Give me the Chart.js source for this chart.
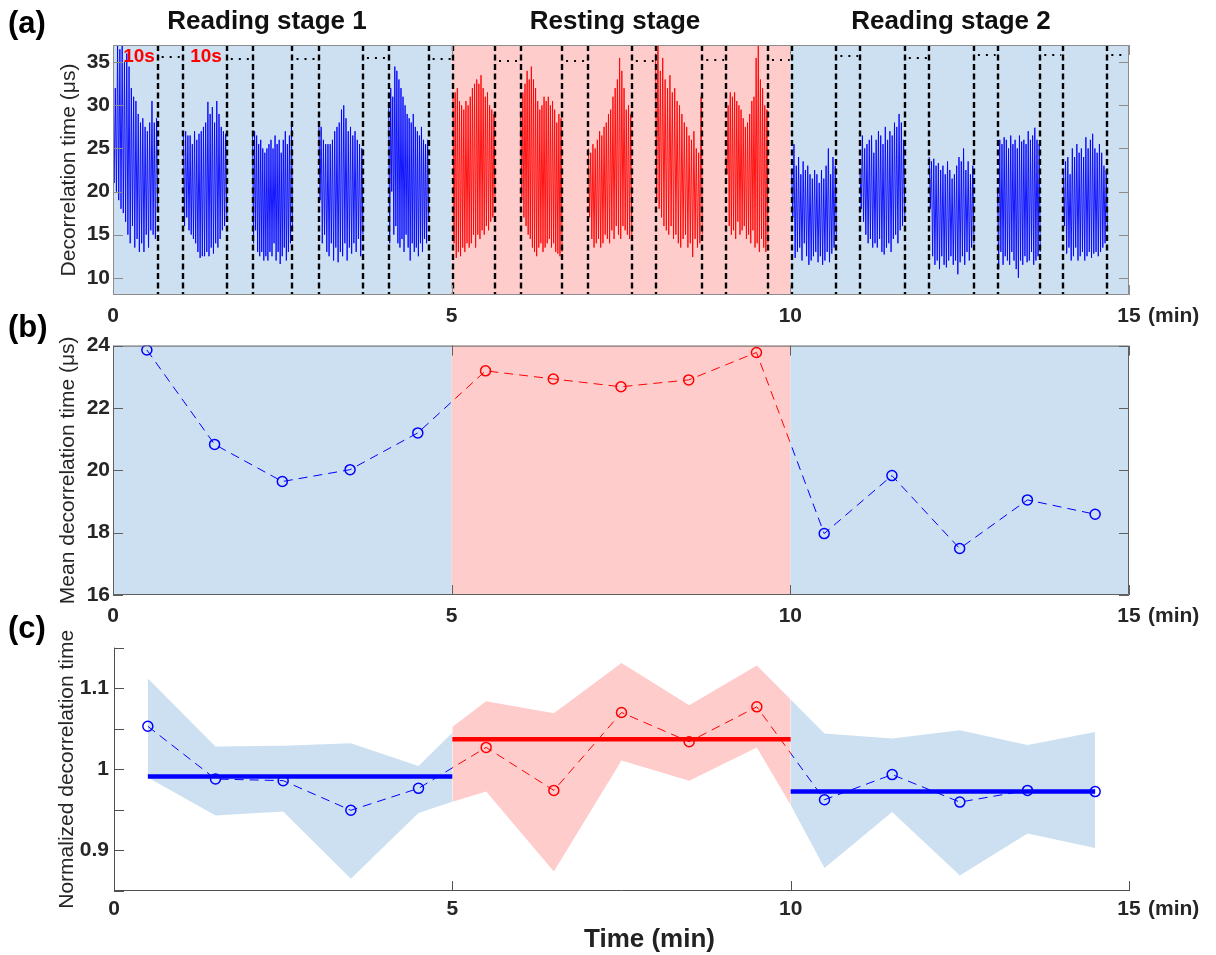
<!DOCTYPE html>
<html>
<head>
<meta charset="utf-8">
<script src="https://cdn.jsdelivr.net/npm/chart.js@4.4.1/dist/chart.umd.min.js"></script>
<style>
  body { margin: 0; background: #fff; width: 1216px; height: 955px; position: relative; overflow: hidden;
         font-family: "Liberation Sans", Arial, sans-serif; }
  .panel { position: absolute; left: 0; width: 1216px; }
  .lbl { position: absolute; font-weight: bold; color: #000; line-height: 1; white-space: nowrap; }
  .stage { width: 400px; text-align: center; font-size: 26px; color: #111; }
</style>
</head>
<body>
<div class="panel" style="top:0;height:330px"><canvas id="chartA"></canvas></div>
<div class="panel" style="top:330px;height:300px"><canvas id="chartB"></canvas></div>
<div class="panel" style="top:630px;height:325px"><canvas id="chartC"></canvas></div>

<div class="lbl" style="left:8px;top:7px;font-size:31px">(a)</div>
<div class="lbl" style="left:8px;top:311px;font-size:31px">(b)</div>
<div class="lbl" style="left:8px;top:612px;font-size:31px">(c)</div>
<div class="lbl stage" style="left:67px;top:7px">Reading stage 1</div>
<div class="lbl stage" style="left:415px;top:7px">Resting stage</div>
<div class="lbl stage" style="left:751px;top:7px">Reading stage 2</div>
<div class="lbl" style="left:584px;top:925px;font-size:26px;color:#222">Time (min)</div>

<script>
// stages along the time axis (min)
const stageEdges = [0, 5, 10, 15];
const stageFills = ['#cce0f1', '#ffcccc', '#cce0f1'];
const stageLines = ['#0000ff', '#ff0000', '#0000ff'];
const xTicks = [0, 5, 10, 15];

// (a) raw decorrelation time, one array per 40 s recording
const segStarts = [0, 1.04, 2.06, 3.04, 4.07, 5.02, 6.02, 7.02, 8.01, 9.05, 10.02, 11.03, 12.05, 13.06, 14.03];
const segEnds = [0.66, 1.68, 2.65, 3.69, 4.66, 5.64, 6.63, 7.66, 8.70, 9.67, 10.68, 11.69, 12.71, 13.69, 14.68];
const gapLevels = [35.6, 35.4, 35.4, 35.5, 35.4, 35.2, 35.2, 35.2, 35.3, 35.3, 35.7, 35.5, 35.8, 35.8, 35.8];
const seg01 = [27.5,21, 32,20, 37,19, 36.5,18, 37,17.5, 35,16.5, 36,15, 34.5,14, 32,16, 31,13.5, 30.5,14.5, 29,13, 28,14, 28.5,13, 27.5,15, 27,13.5, 28,15.5, 30.5,15, 28,14.5, 28.5,18];
const seg02 = [26.5,16, 27,17, 26.5,15.5, 26.5,15, 25.5,14.5, 27,14, 26,13, 26.7,12.3, 27,12.5, 27.5,12.5, 28,13, 30.4,12.5, 29,13.5, 29.8,12.8, 28,14, 30.5,13.5, 29,14.5, 27.5,15.5, 27,16, 26.7,17];
const seg03 = [27,14, 27,15.5, 26.5,13, 25.5,12.5, 26,13, 25,12, 24.5,12.5, 25,12, 25.5,13, 26,12.5, 25,14, 26.5,12, 25.5,13, 26,11.6, 24.5,12.5, 26,13.5, 27,12, 25.5,13, 26.5,14, 28,15.5];
const seg04 = [27.5,19, 27.5,14, 26,15, 25.5,13, 25.5,12.5, 25.5,14, 26,12, 27,13.5, 27.5,11.8, 28,13, 29.5,12.5, 30,14, 28.5,12, 27,13.5, 27.5,12.8, 26.5,14, 27,13, 26,14.5, 25.5,12.5, 25,15];
const seg05 = [30,14, 32,20, 31,15, 34.5,16, 34,14, 33,13.5, 32,14.5, 31,13, 30,15, 29,13.5, 28.5,12, 28,14, 29,13, 27.5,13.5, 27,12.5, 26.5,14, 27.5,13, 26,14.5, 25.5,14, 26,17];
const seg06 = [31,14, 31.5,12.3, 32,13, 30.5,12.5, 30,13.5, 29.5,13, 30.5,14, 30,13.5, 31,14, 32,15, 32.5,13.5, 33,15, 32.5,14.5, 33.5,15.5, 32,15, 31,16, 31.5,15.5, 30,16.5, 29.5,17, 29,19];
const seg07 = [29,19, 31.5,17, 32.5,16, 34,15, 33,14.5, 34.5,13.5, 33,13, 32,12.5, 30.5,13.5, 29.5,14, 30,13, 31,13.5, 30.5,14, 31,14.5, 30,13.5, 30.5,14, 29.5,13, 28,12.8, 29,12.5, 28.5,13];
const seg08 = [25,17, 24.5,14.5, 25.5,13.5, 25,14, 26,14.5, 27,13.5, 26.5,14, 27.5,15, 28,14.5, 29,14, 29.5,15.5, 31,14.5, 32,16, 33,15, 35.5,14.5, 34,16, 32,15.5, 29.5,15, 30,14.5, 29,14.3];
const seg09 = [36,19, 37,18, 34,17, 35.5,16, 33,15.5, 32,15, 33.5,16, 31.5,14.5, 32,15, 30.5,14, 30,13.5, 29,14.5, 28,15, 27.5,13.5, 26.5,14, 26,12.4, 27,14.5, 25,13.5, 24.5,14, 31,15];
const seg10 = [24,22, 30,16, 31.5,15, 31,15.5, 31.5,14.5, 30.5,16.5, 30,15, 29.5,15.5, 28.5,16, 27.5,14.5, 28,15, 29,14, 30.5,15.5, 31,13.5, 35.5,14, 37,13, 33,14.5, 32,13.5, 30,13, 29.5,14];
const seg11 = [22,17, 25.5,12.3, 23,13, 24,13.5, 22,12, 23.5,14, 22.5,12.5, 23,11.5, 22,12, 21.5,12.5, 22.5,13, 22,11.8, 21,12.5, 22.5,11.5, 21.5,12, 23,13, 25,11.8, 22,12.8, 24,13.5, 23,14.5];
const seg12 = [22,18, 26.5,16.5, 25,15, 25.5,14, 26,14.5, 26.5,13.5, 24.5,14, 26,13.5, 27,14.5, 26.5,13, 25.5,12.7, 27.5,13.5, 26,14, 27,13, 26.5,14.5, 28,15, 27.5,14, 29,15.5, 28,16, 26,17];
const seg13 = [24,18, 23.5,12.5, 23.8,11.5, 23,12, 23.3,11, 22.5,12.5, 23,11.5, 22,11.2, 23.5,12, 22.5,12.5, 21.5,11.5, 22,12, 23,10.4, 24,11.8, 23.5,12.5, 25,11.5, 22.5,13, 23.5,12, 22,13.5, 23,14];
const seg14 = [20,11, 26,13, 25.5,11.5, 26.3,12.5, 26,12, 25,11.5, 26.5,13, 25.5,12, 26,11, 25,10, 26.5,12, 25.8,11.5, 26,12.5, 25.5,11.8, 27,12, 26,13, 26.5,11.5, 27.4,12, 26,12.5, 25.5,13];
const seg15 = [22.5,16, 23.5,12.8, 24,13.5, 22,12, 25,12.5, 24,13.5, 25.5,12, 24.5,12.5, 25,13, 24,12, 26.3,12.5, 25,13, 26,12.3, 26.7,12.8, 25,13, 24.5,12.5, 25.5,13, 24.5,13.5, 23,14, 22.5,16];
const segValues = [seg01, seg02, seg03, seg04, seg05, seg06, seg07, seg08, seg09, seg10, seg11, seg12, seg13, seg14, seg15];
const yTicksA = [10, 15, 20, 25, 30, 35];

// (b) mean decorrelation time per 1-min block
const blockMid = [0.5, 1.5, 2.5, 3.5, 4.5, 5.5, 6.5, 7.5, 8.5, 9.5, 10.5, 11.5, 12.5, 13.5, 14.5];
const meanTime = [23.86, 20.83, 19.64, 20.02, 21.2, 23.19, 22.93, 22.68, 22.9, 23.78, 17.97, 19.83, 17.49, 19.05, 18.59];
const yTicksB = [16, 18, 20, 22, 24];

// (c) normalized decorrelation time, spread bands and stage means
const normTime = [1.053, 0.988, 0.986, 0.9495, 0.9765, 1.027, 0.974, 1.070, 1.034, 1.077, 0.9625, 0.9935, 0.9596, 0.974, 0.9725];
const bandX1 = [0.5, 1.5, 2.5, 3.5, 4.5, 5];
const bandUp1 = [1.112, 1.028, 1.029, 1.032, 1.004, 1.045];
const bandLo1 = [0.99, 0.943, 0.948, 0.865, 0.946, 0.96];
const bandX2 = [5, 5.5, 6.5, 7.5, 8.5, 9.5, 10];
const bandUp2 = [1.052, 1.084, 1.069, 1.131, 1.079, 1.128, 1.086];
const bandLo2 = [0.96, 0.9725, 0.874, 1.011, 0.986, 1.027, 0.956];
const bandX3 = [10, 10.5, 11.5, 12.5, 13.5, 14.5];
const bandUp3 = [1.086, 1.044, 1.038, 1.048, 1.030, 1.046];
const bandLo3 = [0.956, 0.8785, 0.9475, 0.869, 0.921, 0.903];
const stageMeanFrom = [0.5, 5, 10];
const stageMeanTo = [5, 10, 14.5];
const stageMean = [0.991, 1.037, 0.9725];
const yTicksC = [0.85, 0.9, 0.95, 1, 1.05, 1.1, 1.15];

Chart.defaults.font.family = '"Liberation Sans", Arial, sans-serif';
Chart.defaults.color = '#262626';
Chart.defaults.animation = false;
Chart.defaults.plugins.legend.display = false;
Chart.defaults.plugins.tooltip.enabled = false;

const tickFont = { size: 21, weight: 'bold' };
const titleFont = { size: 21 };

function stageOf(x) {
  if (x < stageEdges[1]) return 0;
  return x < stageEdges[2] ? 1 : 2;
}
const pts = (xs, ys) => xs.map((x, i) => ({ x, y: ys[i] }));

// hard-edged colour change at the stage borders for the dashed mean curve
function stageGradient(context) {
  const chart = context.chart;
  const { ctx, chartArea, scales } = chart;
  if (!chartArea) return stageLines[0];
  const w = chartArea.right - chartArea.left;
  const g = ctx.createLinearGradient(chartArea.left, 0, chartArea.right, 0);
  const pos = v => Math.min(1, Math.max(0, (scales.x.getPixelForValue(v) - chartArea.left) / w));
  stageLines.forEach((c, i) => {
    g.addColorStop(pos(stageEdges[i]), c);
    g.addColorStop(pos(stageEdges[i + 1]), c);
  });
  return g;
}

const stageBackground = {
  id: 'stageBackground',
  beforeDatasetsDraw(chart) {
    const { ctx, chartArea: a, scales: { x } } = chart;
    ctx.save();
    stageFills.forEach((c, i) => {
      const l = x.getPixelForValue(stageEdges[i]);
      const r = x.getPixelForValue(stageEdges[i + 1]);
      ctx.fillStyle = c;
      ctx.fillRect(l, a.top, r - l, a.bottom - a.top);
    });
    ctx.restore();
  }
};

// matlab-like axes: inward ticks, optional full box
function axesFrame(box, color) {
  return {
    id: 'axesFrame',
    afterDatasetsDraw(chart) {
      const { ctx, chartArea: a, scales: { x, y } } = chart;
      const len = 10;
      ctx.save();
      ctx.strokeStyle = color;
      ctx.lineWidth = 1;
      ctx.beginPath();
      if (box) {
        ctx.rect(a.left + 0.5, a.top + 0.5, a.right - a.left - 1, a.bottom - a.top - 1);
      } else {
        ctx.moveTo(a.left + 0.5, a.top);
        ctx.lineTo(a.left + 0.5, a.bottom - 0.5);
        ctx.lineTo(a.right, a.bottom - 0.5);
      }
      x.ticks.forEach(t => {
        const px = Math.round(x.getPixelForValue(t.value)) + 0.5;
        ctx.moveTo(px, a.bottom); ctx.lineTo(px, a.bottom - len);
        if (box) { ctx.moveTo(px, a.top); ctx.lineTo(px, a.top + len); }
      });
      y.ticks.forEach(t => {
        const py = Math.round(y.getPixelForValue(t.value)) + 0.5;
        ctx.moveTo(a.left, py); ctx.lineTo(a.left + len, py);
        if (box) { ctx.moveTo(a.right, py); ctx.lineTo(a.right - len, py); }
      });
      ctx.stroke();
      ctx.restore();
    }
  };
}

// "(min)" written after the last tick label
function minUnit(pad) {
  return {
    id: 'minUnit',
    afterDraw(chart) {
      const { ctx, scales: { x } } = chart;
      ctx.save();
      ctx.font = 'bold 21px "Liberation Sans", Arial, sans-serif';
      ctx.fillStyle = '#262626';
      ctx.textBaseline = 'middle';
      ctx.textAlign = 'left';
      ctx.fillText('(min)', x.getPixelForValue(15) + 19, x.top + pad + 12.6);
      ctx.restore();
    }
  };
}

// recording borders (dashed), pauses (dotted) and the 10 s notes
const recordingMarks = {
  id: 'recordingMarks',
  afterDatasetsDraw(chart) {
    const { ctx, chartArea: a, scales: { x, y } } = chart;
    ctx.save();
    ctx.strokeStyle = '#000';
    ctx.lineWidth = 2.4;
    ctx.setLineDash([6, 3.5]);
    ctx.beginPath();
    segStarts.concat(segEnds).forEach(t => {
      if (t <= 0) return;
      const px = Math.round(x.getPixelForValue(t));
      ctx.moveTo(px, a.top); ctx.lineTo(px, a.bottom);
    });
    ctx.stroke();
    ctx.lineWidth = 2;
    ctx.setLineDash([2, 6]);
    ctx.beginPath();
    segEnds.forEach((t, i) => {
      const next = i + 1 < segStarts.length ? segStarts[i + 1] : 15;
      const py = Math.round(y.getPixelForValue(gapLevels[i]));
      ctx.moveTo(x.getPixelForValue(t) + 4, py); ctx.lineTo(x.getPixelForValue(next) - 2, py);
    });
    ctx.stroke();
    ctx.setLineDash([]);
    ctx.font = 'bold 19px "Liberation Sans", Arial, sans-serif';
    ctx.fillStyle = '#ff0000';
    ctx.textBaseline = 'middle';
    [0.15, 1.14].forEach(t => ctx.fillText('10s', x.getPixelForValue(t), y.getPixelForValue(35.6)));
    ctx.restore();
  }
};

function xScale(pad, height) {
  return {
    type: 'linear', min: 0, max: 15,
    grid: { display: false, drawTicks: false }, border: { display: false },
    ticks: { font: tickFont, padding: pad, maxRotation: 0 },
    afterBuildTicks: s => { s.ticks = xTicks.map(v => ({ value: v })); },
    afterFit: s => { s.height = height; }
  };
}

function yScale(min, max, ticks, width, title, titlePad, pad, cb) {
  return {
    type: 'linear', min, max,
    grid: { display: false, drawTicks: false }, border: { display: false },
    ticks: { font: tickFont, padding: pad, callback: cb || (v => v) },
    title: { display: true, text: title, font: titleFont, color: '#262626', padding: { top: titlePad, bottom: 0 } },
    afterBuildTicks: s => { s.ticks = ticks.map(v => ({ value: v })); },
    afterFit: s => { s.width = width; }
  };
}

// ---------- (a)
new Chart(document.getElementById('chartA'), {
  type: 'line',
  data: {
    datasets: segValues.map((vals, i) => {
      const dt = (segEnds[i] - segStarts[i]) / (vals.length - 1);
      return {
        data: vals.map((v, k) => ({ x: segStarts[i] + k * dt, y: v })),
        borderColor: stageLines[stageOf(segStarts[i] + 0.1)],
        borderWidth: 0.9,
        pointRadius: 0,
        tension: 0
      };
    })
  },
  options: {
    responsive: true, maintainAspectRatio: false,
    layout: { padding: { left: 0, right: 87, top: 45, bottom: 0 } },
    scales: {
      x: xScale(9, 35),
      y: yScale(8, 37, yTicksA, 113, 'Decorrelation time (μs)', 57, 3)
    }
  },
  plugins: [stageBackground, recordingMarks, axesFrame(true, '#8c8c8c'), minUnit(9)]
});

// ---------- (b)
new Chart(document.getElementById('chartB'), {
  type: 'line',
  data: {
    datasets: [{
      data: pts(blockMid, meanTime),
      borderColor: stageGradient,
      borderWidth: 1,
      borderDash: [9, 6],
      pointRadius: 5,
      pointBorderWidth: 1.5,
      pointBackgroundColor: 'rgba(0,0,0,0)',
      pointBorderColor: blockMid.map(x => stageLines[stageOf(x)]),
      tension: 0
    }]
  },
  options: {
    responsive: true, maintainAspectRatio: false,
    layout: { padding: { left: 0, right: 87, top: 15, bottom: 0 } },
    scales: {
      x: xScale(9, 35),
      y: yScale(16, 24, yTicksB, 113, 'Mean decorrelation time (μs)', 56, 3)
    }
  },
  plugins: [stageBackground, axesFrame(true, '#606060'), minUnit(9)]
});

// ---------- (c)
const meanLines = stageMean.map((m, i) => ({
  data: [{ x: stageMeanFrom[i], y: m }, { x: stageMeanTo[i], y: m }],
  borderColor: stageLines[i], borderWidth: 4.5, pointRadius: 0
}));
const bands = [[bandX1, bandUp1, bandLo1], [bandX2, bandUp2, bandLo2], [bandX3, bandUp3, bandLo3]];
const bandSets = [];
bands.forEach(([bx, up, lo], i) => {
  bandSets.push({ data: pts(bx, up), borderWidth: 0, pointRadius: 0, fill: '+1', backgroundColor: stageFills[i] });
  bandSets.push({ data: pts(bx, lo), borderWidth: 0, pointRadius: 0, fill: false });
});

new Chart(document.getElementById('chartC'), {
  type: 'line',
  data: {
    datasets: [{
      data: pts(blockMid, normTime),
      borderColor: stageGradient,
      borderWidth: 1,
      borderDash: [9, 6],
      pointRadius: 5,
      pointBorderWidth: 1.5,
      pointBackgroundColor: 'rgba(0,0,0,0)',
      pointBorderColor: blockMid.map(x => stageLines[stageOf(x)]),
      tension: 0
    }].concat(meanLines, bandSets)
  },
  options: {
    responsive: true, maintainAspectRatio: false,
    layout: { padding: { left: 0, right: 87, top: 14, bottom: 0 } },
    scales: {
      x: xScale(6, 64),
      y: yScale(0.85, 1.15, yTicksC, 114, 'Normalized decorrelation time', 55, 5,
        v => (Math.abs(v * 10 - Math.round(v * 10)) < 1e-6 ? String(Math.round(v * 10) / 10) : ''))
    }
  },
  plugins: [axesFrame(false, '#505050'), minUnit(6)]
});
</script>
</body>
</html>
